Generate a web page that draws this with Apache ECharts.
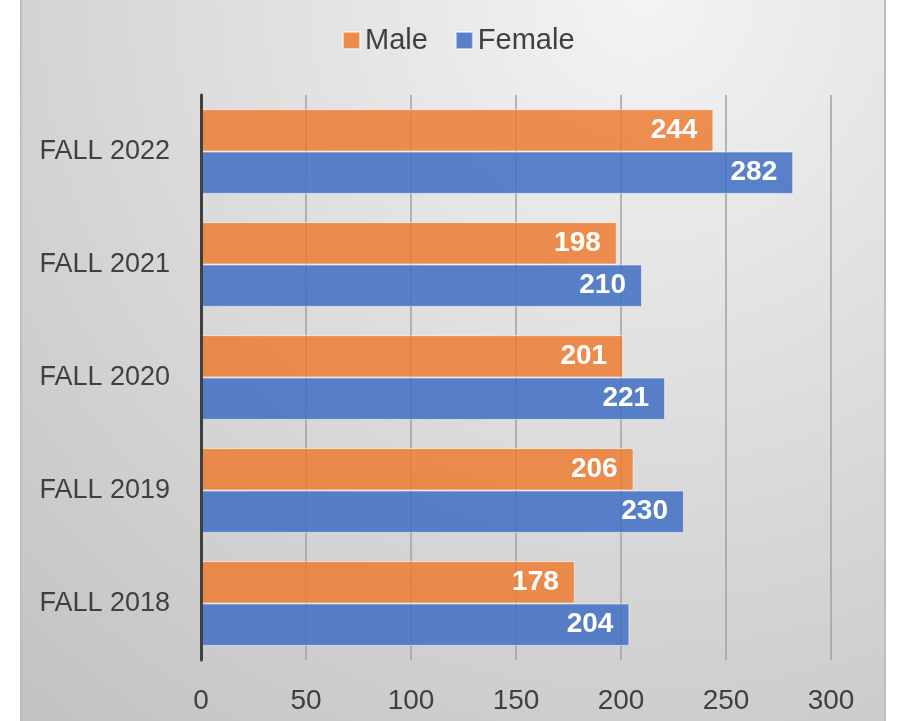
<!DOCTYPE html>
<html>
<head>
<meta charset="utf-8">
<script src="https://cdn.jsdelivr.net/npm/echarts@6/dist/echarts.min.js"></script>
<style>
html, body { margin: 0; padding: 0; background: #ffffff; }
#main { width: 897px; height: 721px; }
</style>
</head>
<body>
<div id="main"></div>
<script>
var terms = ['FALL 2018', 'FALL 2019', 'FALL 2020', 'FALL 2021', 'FALL 2022'];
var male = [178, 206, 201, 198, 244];
var female = [204, 230, 221, 210, 282];
var xTicks = [0, 50, 100, 150, 200, 250, 300];

var myChart = echarts.init(document.getElementById('main'));
var font = 'Liberation Sans, Arial, sans-serif';

var valueLabel = {
    show: true,
    position: 'insideRight',
    distance: 16,
    color: '#ffffff',
    fontSize: 28,
    fontWeight: 'bold',
    fontFamily: font
};

var option = {
    animation: false,
    textStyle: { fontFamily: font },
    graphic: [{
        type: 'rect',
        z: -10,
        shape: { x: 21, y: -3, width: 864, height: 727 },
        style: {
            fill: {
                type: 'radial', x: 0.72, y: 0.0, r: 1.3,
                colorStops: [
                    { offset: 0, color: '#f4f4f4' },
                    { offset: 1, color: '#c2c2c2' }
                ]
            },
            stroke: '#bdbdbd',
            lineWidth: 2
        }
    }],
    legend: {
        data: ['Male', 'Female'],
        top: 21,
        left: 337,
        itemWidth: 17,
        itemHeight: 17,
        itemGap: 27,
        icon: 'rect',
        textStyle: { fontSize: 29, color: '#404040', fontFamily: font }
    },
    grid: { left: 201, right: 66, top: 95, bottom: 61, containLabel: false },
    xAxis: {
        type: 'value',
        min: 0,
        max: 300,
        interval: 50,
        axisLine: { show: false },
        axisTick: { show: false },
        splitLine: { show: true, lineStyle: { color: '#a0a0a0', width: 1.5 } },
        axisLabel: {
            margin: 27,
            fontSize: 28,
            color: '#404040',
            fontFamily: font,
            formatter: function (v) { return xTicks.indexOf(v) >= 0 ? String(v) : ''; }
        }
    },
    yAxis: {
        type: 'category',
        data: terms,
        z: 10,
        axisLine: { show: true, lineStyle: { color: '#404040', width: 3 } },
        axisTick: { show: false },
        axisLabel: { margin: 31, fontSize: 27, color: '#404040', fontFamily: font }
    },
    series: [{
        name: 'Male',
        type: 'bar',
        data: male,
        barGap: '0%',
        barCategoryGap: '25%',
        itemStyle: { color: 'rgba(237,125,49,0.85)', borderColor: 'rgba(255,255,255,0.55)', borderWidth: 1 },
        label: valueLabel
    }, {
        name: 'Female',
        type: 'bar',
        data: female,
        barGap: '0%',
        barCategoryGap: '25%',
        itemStyle: { color: 'rgba(68,114,196,0.88)', borderColor: 'rgba(255,255,255,0.55)', borderWidth: 1 },
        label: valueLabel
    }]
};

myChart.setOption(option);
</script>
</body>
</html>
